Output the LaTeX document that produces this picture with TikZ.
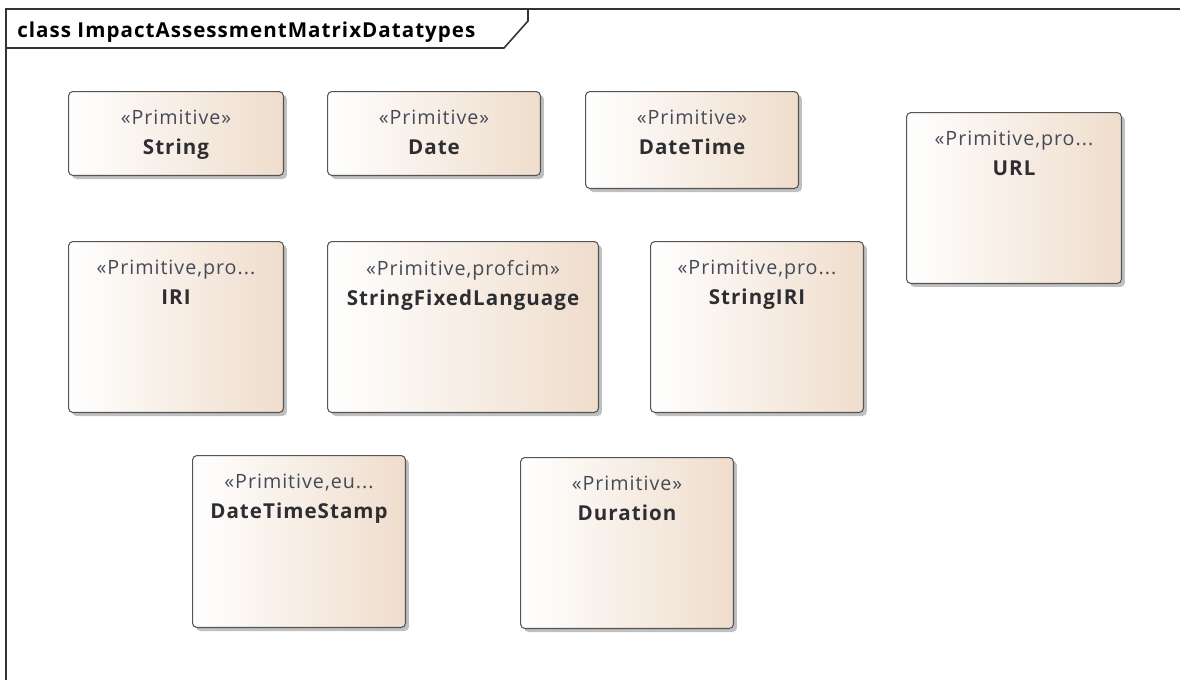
\documentclass[tikz,border=0pt]{standalone}
\usepackage{fontspec}
\setmainfont{Open Sans}[LetterSpace=5]
\usetikzlibrary{shadows}

\definecolor{boxedge}{RGB}{85,85,85}
\definecolor{boxtan}{RGB}{239,221,204}
\definecolor{stereo}{RGB}{68,74,88}
\definecolor{dtname}{RGB}{45,45,50}

\tikzset{
	datatype/.style={draw=boxedge, line width=0.6pt, rounded corners=2.5pt, anchor=north west,
		left color=white, right color=boxtan, inner sep=0pt,
		drop shadow={shadow xshift=0.7mm, shadow yshift=-0.7mm, fill=black!45, opacity=0.55}},
	dtlabel/.style={anchor=north, align=center, inner sep=0pt, font=\fontsize{11.7}{17}\selectfont\bfseries, text=dtname},
}
\newcommand{\stype}[1]{{\fontsize{11.2}{17}\selectfont\mdseries\color{stereo}«#1»}}
\newcommand{\stypecut}[1]{{\fontsize{11.2}{17}\selectfont\mdseries\color{stereo}«#1...}}

\begin{document}
\begin{tikzpicture}[x=0.02cm, y=-0.02cm]
	\useasboundingbox (0,0) rectangle (1180,680);

	% package frame and its name tab
	\draw[line width=0.9pt, draw=black!80] (1180,9) -- (6,9) -- (6,680);
	\draw[line width=0.9pt, draw=black!80] (528,9) -- (528,21) -- (504,48) -- (6,48);
	\node[anchor=base west, inner sep=0pt, font=\fontsize{11.7}{14}\selectfont\bfseries] at (17,37) (frame-name) {class ImpactAssessmentMatrixDatatypes};

	% first row
	\node[datatype, minimum width=4.3cm, minimum height=1.68cm] at (68,91) (string) {};
	\node[dtlabel] at ([yshift=-0.38cm]string.north) (string-text) {\stype{Primitive}\\String};

	\node[datatype, minimum width=4.26cm, minimum height=1.68cm] at (327,91) (date) {};
	\node[dtlabel] at ([yshift=-0.38cm]date.north) (date-text) {\stype{Primitive}\\Date};

	\node[datatype, minimum width=4.26cm, minimum height=1.94cm] at (585,91) (date-time) {};
	\node[dtlabel] at ([yshift=-0.38cm]date-time.north) (date-time-text) {\stype{Primitive}\\DateTime};

	\node[datatype, minimum width=4.3cm, minimum height=3.42cm] at (906,112) (url) {};
	\node[dtlabel] at ([yshift=-0.38cm]url.north) (url-text) {\stypecut{Primitive,pro}\\URL};

	% second row
	\node[datatype, minimum width=4.3cm, minimum height=3.42cm] at (68,241) (iri) {};
	\node[dtlabel] at ([yshift=-0.38cm]iri.north) (iri-text) {\stypecut{Primitive,pro}\\IRI};

	\node[datatype, minimum width=5.42cm, minimum height=3.42cm] at (327,241) (string-fixed) {};
	\node[dtlabel] at ([yshift=-0.38cm]string-fixed.north) (string-fixed-text) {\stype{Primitive,profcim}\\StringFixedLanguage};

	\node[datatype, minimum width=4.26cm, minimum height=3.42cm] at (650,241) (string-iri) {};
	\node[dtlabel] at ([yshift=-0.38cm]string-iri.north) (string-iri-text) {\stypecut{Primitive,pro}\\StringIRI};

	% third row
	\node[datatype, minimum width=4.26cm, minimum height=3.44cm] at (192,455) (date-time-stamp) {};
	\node[dtlabel] at ([yshift=-0.38cm]date-time-stamp.north) (date-time-stamp-text) {\stypecut{Primitive,eu}\\DateTimeStamp};

	\node[datatype, minimum width=4.26cm, minimum height=3.42cm] at (520,457) (duration) {};
	\node[dtlabel] at ([yshift=-0.38cm]duration.north) (duration-text) {\stype{Primitive}\\Duration};
\end{tikzpicture}
\end{document}
